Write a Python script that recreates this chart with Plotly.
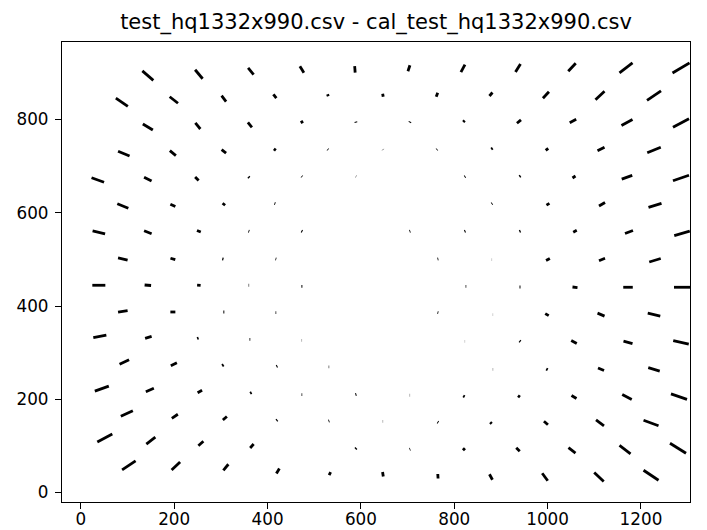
import plotly.graph_objects as go

# Grid point centres (data units), row by row (top -> bottom)
x = [
    # row 1 (~y 900)
    143.6, 252.9, 364.3, 473.6, 587.2, 702.9, 818.6, 936.5, 1052.2, 1167.9, 1285.7,
    # row 2
    87.9, 199.3, 306.4, 415.7, 529.3, 647.2, 762.9, 878.6, 996.4, 1112.2, 1227.9,
    # row 3
    143.6, 250.7, 362.2, 473.6, 589.3, 705.0, 820.7, 938.6, 1054.3, 1170.0, 1285.7,
    # row 4
    92.1, 197.2, 306.4, 415.7, 529.3, 647.2, 762.9, 880.7, 998.6, 1114.4, 1227.9,
    # row 5
    36.4, 143.6, 248.6, 360.0, 473.6, 589.3, 707.2, 822.9, 940.8, 1056.5, 1170.0, 1285.7,
    # row 6
    90.0, 197.2, 306.4, 415.7, 531.5, 647.2, 765.0, 880.7, 1000.7, 1116.5, 1230.0,
    # row 7
    38.6, 143.6, 252.9, 360.0, 473.6, 589.3, 705.0, 822.9, 940.8, 1058.6, 1174.3, 1287.9,
    # row 8
    90.0, 197.2, 304.3, 417.9, 531.5, 647.2, 765.0, 880.7, 1000.7, 1116.5, 1230.0,
    # row 9
    38.6, 143.6, 252.9, 360.0, 473.6, 591.5, 707.2, 825.0, 940.8, 1058.6, 1172.2, 1287.9,
    # row 10
    90.0, 197.2, 306.4, 417.9, 531.5, 647.2, 765.0, 882.9, 998.6, 1114.4, 1227.9,
    # row 11
    40.7, 144.7, 250.7, 362.2, 473.6, 591.5, 707.2, 822.9, 940.8, 1056.5, 1172.2, 1285.7,
    # row 12
    93.2, 199.3, 304.3, 420.0, 531.5, 647.2, 765.0, 882.9, 998.6, 1114.4, 1227.9,
    # row 13
    45.0, 147.9, 255.0, 364.3, 473.6, 589.3, 705.0, 820.7, 938.6, 1056.5, 1170.0, 1281.4,
    # row 14
    98.6, 201.4, 308.6, 420.0, 531.5, 647.2, 765.0, 878.6, 996.4, 1112.2, 1221.5,
    # row 15
    51.4, 150.0, 257.2, 366.5, 589.3, 705.0, 820.7, 936.5, 1052.2, 1165.8, 1279.3,
    # row 16
    102.9, 203.6, 310.7, 422.2, 533.6, 647.2, 765.0, 878.6, 994.3, 1110.0, 1221.5,
]
y = [
    894.3, 897.1, 903.5, 907.1, 907.8, 909.9, 909.9, 910.6, 912.0, 910.6, 910.6,
    837.0, 841.9, 844.9, 849.8, 852.0, 852.0, 853.1, 854.2, 852.7, 851.4, 851.4,
    784.0, 786.2, 788.8, 794.7, 794.7, 794.7, 796.2, 795.6, 796.9, 793.5, 792.6,
    727.0, 728.1, 731.9, 735.6, 735.6, 735.6, 735.6, 737.7, 736.2, 736.9, 734.7,
    670.4, 672.3, 672.9, 676.2, 677.7, 677.7, 677.7, 677.7, 678.3, 676.8, 676.2, 674.7,
    614.6, 616.1, 618.3, 619.8, 619.8, 619.8, 619.8, 619.8, 618.3, 618.3, 616.1,
    558.2, 558.2, 560.4, 560.4, 560.4, 560.4, 560.4, 560.4, 560.4, 560.4, 558.9, 556.1,
    501.0, 501.0, 501.0, 501.0, 501.0, 501.0, 501.0, 499.7, 499.7, 499.7, 498.2,
    444.6, 444.6, 444.6, 444.6, 442.4, 442.4, 442.4, 442.4, 440.9, 440.3, 440.3, 440.3,
    388.8, 387.3, 387.3, 386.0, 386.0, 386.0, 386.0, 381.7, 381.7, 381.7, 381.7,
    335.2, 333.0, 330.9, 328.7, 326.6, 326.6, 326.6, 324.4, 324.4, 323.0, 322.3, 322.3,
    280.1, 275.1, 273.0, 270.9, 269.4, 268.7, 268.1, 264.4, 264.4, 264.4, 264.4,
    223.0, 220.0, 216.6, 213.6, 210.2, 210.2, 208.7, 206.5, 206.5, 205.0, 205.0, 205.9,
    169.4, 163.6, 159.3, 155.0, 153.5, 152.9, 150.8, 149.3, 149.3, 149.3, 149.3,
    117.1, 111.5, 105.1, 99.9, 94.4, 92.9, 92.9, 92.2, 90.7, 92.2, 95.0,
    58.5, 57.0, 54.3, 46.3, 40.7, 39.2, 35.0, 33.5, 33.5, 33.5, 37.1,
]
# Displacement vectors (data units)
u = [
    23.6, 16.1, 11.8, 8.6, 1.1, 4.3, 8.6, 10.7, 16.1, 27.9, 36.4,
    25.7, 17.8, 9.6, 6.4, 1.5, 1.1, 3.2, 6.4, 12.9, 19.3, 30.0,
    21.4, 10.7, 8.6, 3.2, 0.6, 1.1, 3.2, 8.6, 13.9, 23.6, 34.3,
    24.6, 12.9, 9.6, 4.3, 1.1, 0.4, 1.1, 3.2, 5.4, 15.0, 28.9,
    26.8, 16.1, 7.5, 2.1, 1.1, 0.6, 0.2, 1.7, 2.6, 6.4, 22.5, 34.3,
    23.6, 10.7, 5.4, 1.7, 0.2, 0.2, 0.2, 1.5, 6.4, 12.9, 27.9,
    26.8, 16.1, 8.1, 1.7, 2.1, 0.2, 1.7, 2.1, 2.6, 7.5, 17.1, 33.2,
    20.4, 10.3, 2.6, 1.5, 0.2, 0.2, 1.7, 0.4, 8.1, 12.9, 24.6,
    27.9, 13.9, 7.5, 1.1, 2.1, 0.2, 0.2, 1.5, 2.1, 10.7, 20.4, 34.3,
    20.4, 10.7, 2.1, 1.5, 0.2, 0.2, 1.7, 0.4, 7.5, 15.0, 26.8,
    27.9, 13.9, 3.2, 1.7, 0.6, 0.2, 0.2, 0.4, 2.1, 11.8, 19.3, 33.2,
    20.4, 12.9, 3.2, 2.1, 1.1, 0.2, 0.2, 0.6, 3.2, 12.9, 24.6,
    30.0, 17.1, 9.6, 3.2, 1.5, 2.1, 0.6, 3.2, 4.3, 10.7, 20.4, 34.3,
    25.7, 12.9, 8.6, 2.1, 1.7, 0.6, 1.7, 3.2, 8.6, 17.1, 32.1,
    32.1, 19.3, 10.7, 7.5, 2.1, 1.5, 4.3, 7.5, 15.0, 23.6, 34.3,
    28.9, 18.2, 10.7, 6.4, 3.2, 1.5, 0.6, 6.4, 11.8, 20.4, 32.1,
]
v = [
    -20.4, -19.3, -14.6, -13.9, -13.9, 12.9, 16.1, 17.2, 17.2, 21.4, 21.4,
    -17.8, -13.9, -12.9, -8.1, -4.3, -6.4, 8.6, 7.5, 13.9, 18.2, 20.4,
    -12.9, -12.9, -10.7, -5.4, -2.1, 2.1, 3.2, 7.1, 7.1, 12.9, 18.2,
    -10.3, -10.7, -7.5, -3.2, -1.1, -0.6, 1.1, 2.1, 4.3, 7.5, 11.8,
    -9.7, -8.1, -7.5, -2.1, -1.1, -0.4, 0.0, 1.1, 1.7, 4.3, 8.1, 11.8,
    -9.7, -4.9, -4.3, -0.6, 0.0, 0.0, 0.0, 1.1, 3.9, 7.5, 8.6,
    -6.4, -6.4, -3.2, -0.6, -1.1, 0.0, 0.6, 0.9, 1.1, 3.9, 6.4, 9.7,
    -4.9, -3.2, -0.6, -0.4, 0.0, 0.0, 0.4, 0.0, 4.3, 5.4, 7.5,
    0.0, -1.1, -0.6, 0.0, 0.0, 0.0, 0.0, 0.0, 0.0, -1.1, 0.0, 0.0,
    3.2, 0.0, 0.0, 0.0, 0.0, 0.0, -0.4, 0.0, -4.3, -6.4, -6.4,
    5.4, 4.3, 1.1, 0.0, 0.0, 0.0, 0.0, 0.0, -1.7, -6.4, -5.4, -7.5,
    9.7, 6.4, 2.1, 1.1, 0.0, 0.0, 0.0, 0.0, -1.7, -5.4, -7.5,
    10.7, 7.5, 5.4, 1.7, 0.0, 0.6, 0.0, -1.7, -3.2, -6.4, -10.7, -11.8,
    11.8, 8.6, 7.5, 1.7, 0.6, 0.0, -1.1, -3.2, -7.5, -12.9, -11.8,
    17.2, 15.0, 9.7, 8.6, 2.1, 0.6, -4.3, -7.5, -11.8, -18.2, -21.4,
    19.3, 17.2, 12.9, 10.7, 6.4, -9.7, -9.7, -11.8, -16.1, -19.3, -21.4,
]

x_ticks = [0, 200, 400, 600, 800, 1000, 1200]
y_ticks = [0, 200, 400, 600, 800]
title = "test_hq1332x990.csv - cal_test_hq1332x990.csv"

seg_x, seg_y = [], []
for xi, yi, ui, vi in zip(x, y, u, v):
    seg_x += [xi - ui / 2, xi + ui / 2, None]
    seg_y += [yi - vi / 2, yi + vi / 2, None]

fig = go.Figure(go.Scatter(x=seg_x, y=seg_y, mode="lines",
                           line=dict(color="black", width=2.8),
                           hoverinfo="skip", showlegend=False))

font = "DejaVu Sans, Arial, sans-serif"
axis_common = dict(showline=True, mirror=True, linecolor="black", linewidth=1.2,
                   ticks="outside", ticklen=6, tickwidth=1.2, tickcolor="black",
                   showgrid=False, zeroline=False, automargin=False,
                   tickfont=dict(family=font, size=16.8, color="black"))

# The page body has an 8px default margin, so the figure is 8px smaller
W, H = 699, 522
fig.update_layout(
    width=W, height=H, autosize=False,
    margin=dict(l=54, r=17, t=34, b=28, pad=0),
    paper_bgcolor="white", plot_bgcolor="white",
    title=dict(text=title, x=(376 - 8) / W, xanchor="center", y=1 - 14 / H, yanchor="middle",
               automargin=False,
               font=dict(family=font, size=21, color="black")),
    xaxis=dict(range=[-40.3, 1305], tickvals=x_ticks, **axis_common),
    yaxis=dict(range=[-20.2, 966.3], tickvals=y_ticks, **axis_common),
)

try:
    fig.update_xaxes(ticklabelstandoff=-4)
except Exception:
    fig.update_xaxes(ticklen=3)
try:
    fig.update_yaxes(ticklabelstandoff=3)
except Exception:
    pass

fig.write_html("out.html")
